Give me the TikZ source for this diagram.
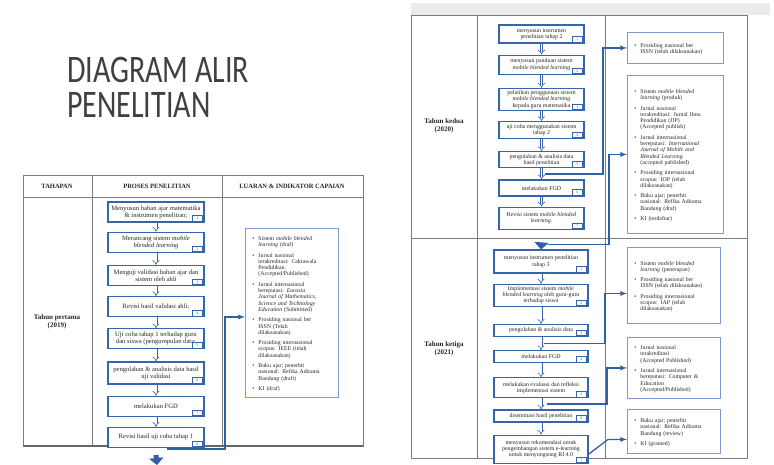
\documentclass[tikz,border=0pt]{standalone}
\usepackage{fontspec}
\setmainfont{Liberation Serif}
\newfontfamily\titlefont{Carlito}
\usepackage{graphicx}
\usepackage{enumitem}
\usetikzlibrary{positioning,calc,arrows.meta}

\definecolor{boxblue}{RGB}{55,100,170}
\definecolor{outblue}{RGB}{125,155,205}
\definecolor{arrblue}{RGB}{50,95,165}
\definecolor{rulegray}{RGB}{125,125,125}

\newcommand{\luaran}[1]{%
  \begin{itemize}[leftmargin=10pt,labelsep=4pt,itemsep=4pt,topsep=0pt,partopsep=0pt,parsep=0pt,label=\textbullet]
  #1
  \end{itemize}}

\begin{document}
\begin{tikzpicture}[x=1pt,y=-1pt,
	proc/.style={rectangle, draw=boxblue, line width=1.2pt, fill=white, text=black!85, align=center, inner sep=1pt, minimum width=96pt, minimum height=20pt, font=\fontsize{6.6}{7}\selectfont},
	procb/.style={proc, minimum width=85pt, minimum height=16pt, font=\fontsize{5.9}{6.3}\selectfont},
	procc/.style={proc, minimum width=94pt, minimum height=12pt, font=\fontsize{5.9}{6.3}\selectfont},
	badge/.style={rectangle, draw=boxblue, line width=0.7pt, fill=white, text=boxblue, inner sep=0pt, minimum width=10pt, minimum height=5.5pt, anchor=south east, font=\fontsize{4}{4}\selectfont},
	outbox/.style={rectangle, draw=outblue, line width=0.9pt, fill=white, text=black!85, text width=#1, inner xsep=3pt, inner ysep=3pt, align=left, anchor=north west, font=\fontsize{5.8}{6.3}\selectfont},
	head/.style={font=\fontsize{6.5}{7}\selectfont\bfseries, text=black!85},
	year/.style={font=\fontsize{7}{8}\selectfont\bfseries, text=black!85, align=center},
	ttl/.style={font=\titlefont\fontsize{30}{35}\selectfont, text=black!75, inner sep=0pt, align=left, anchor=north west},
	flow/.style={draw=boxblue, line width=0.6pt, double=white, double distance=1.8pt, -{Implies}},
	bigarr/.style={draw=arrblue, line width=5pt, -{Triangle[width=14pt,length=7pt]}},
	link/.style={draw=arrblue, line width=1.3pt, -latex}
	]
	\useasboundingbox (0,0) rectangle (774,465);

	% judul
	\node[ttl] (ttl) at (67,57) {\scalebox{1}[1.3]{DIAGRAM ALIR}\\\scalebox{1}[1.3]{PENELITIAN}};

	% tabel tahun pertama
	\draw[rulegray, line width=0.8pt] (23,175) rectangle (363,446);
	\draw[rulegray, line width=0.8pt] (23,197) -- (363,197) (92,175) -- (92,446) (222,175) -- (222,446);
	\draw[black!60, line width=1.5pt] (23,446) -- (363,446);

	\node[head] (hTahapan) at (57,186) {TAHAPAN};
	\node[head] (hProses) at (157,186) {PROSES PENELITIAN};
	\node[head] (hLuaran) at (292,186) {LUARAN \& INDIKATOR CAPAIAN};
	\node[year] (yr1) at (57,322) {Tahun pertama\\(2019)};

	\node[proc] (p11) at (156,212) {Menyusun bahan ajar matematika\\\& instrumen penelitian;};
	\node[proc, below=9pt of p11] (p12) {Merancang sistem \textit{mobile}\\\textit{blended learning}};
	\node[proc, below=12pt of p12] (p13) {Menguji validasi bahan ajar dan\\sistem oleh ahli};
	\node[proc, below=10pt of p13] (p14) {Revisi hasil validasi ahli;};
	\node[proc, below=11pt of p14] (p15) {Uji coba tahap 1 terhadap guru\\dan siswa (pengumpulan data;};
	\node[proc, minimum height=22pt, below=12pt of p15] (p16) {pengolahan \& analisis data hasil\\uji validasi};
	\node[proc, below=11pt of p16] (p17) {melakukan FGD};
	\node[proc, below=10pt of p17] (p18) {Revisi hasil uji coba tahap 1};

	\node[outbox=87pt, minimum height=169pt] (o1) at (245,228) {\luaran{
		\item Sistem \textit{mobile blended}\\\textit{learning} (draf)
		\item Jurnal nasional\\terakreditasi: Cakrawala\\Pendidikan,\\(Accepted/Published)
		\item Jurnal internasional\\bereputasi: \textit{Eurasia}\\\textit{Journal of Mathematics,}\\\textit{Science and Technology}\\\textit{Education} (Submitted)
		\item Prosiding nasional ber\\ISSN (Telah\\dilaksanakan)
		\item Prosiding internasional\\scopus: IEEE (telah\\dilaksanakan)
		\item Buku ajar; penerbit\\nasional: Refika Aditama\\Bandung (draft)
		\item KI (draf)}};

	% tabel tahun kedua dan ketiga
	\fill[black!8] (411,3) rectangle (770,15);
	\draw[rulegray, line width=0.8pt] (411,15) rectangle (747,458);
	\draw[rulegray, line width=0.8pt] (411,238) -- (747,238) (477,15) -- (477,458) (605,15) -- (605,458);

	\node[year] (yr2) at (444,126) {Tahun kedua\\(2020)};
	\node[year] (yr3) at (444,349) {Tahun ketiga\\(2021)};

	\node[procb, minimum height=18pt] (p21) at (541.5,34) {menyusun instrumen\\penelitian tahap 2};
	\node[procb, minimum height=19pt, below=11pt of p21] (p22) {menyusun panduan sistem\\\textit{mobile blended learning}};
	\node[procb, minimum height=22pt, below=13pt of p22] (p23) {pelatihan penggunaan sistem\\\textit{mobile blended learning}\\kepada guru matematika};
	\node[procb, minimum height=17pt, below=10pt of p23] (p24) {uji coba menggunakan sistem\\tahap 2};
	\node[procb, below=12pt of p24] (p25) {pengolahan \& analisis data\\hasil penelitian};
	\node[procb, below=11pt of p25] (p26) {melakukan FGD};
	\node[procb, minimum height=22pt, below=10pt of p26] (p27) {Revisi sistem \textit{mobile blended}\\\textit{learning}.};

	\node[procc, minimum height=23pt] (p31) at (541,261.5) {menyusun instrumen penelitian\\tahap 3};
	\node[procc, minimum height=22pt, below=10pt of p31] (p32) {Implementasi sistem \textit{mobile}\\\textit{blended learning} oleh guru-guru\\terhadap siswa};
	\node[procc, below=17pt of p32] (p33) {pengolahan \& analisis data};
	\node[procc, below=13pt of p33] (p34) {melakukan FGD};
	\node[procc, minimum height=20pt, below=14pt of p34] (p35) {melakukan evaluasi dan refleksi\\implementasi sistem};
	\node[procc, below=11pt of p35] (p36) {diseminasi hasil penelitian};
	\node[procc, minimum height=28pt, below=12pt of p36] (p37) {menyusun rekomendasi untuk\\pengembangan sistem e-learning\\untuk menyongsong RI 4.0};

	\node[outbox=90pt, minimum height=31pt] (oA) at (627,32) {\luaran{
		\item Prosiding nasional ber\\ISSN (telah dilaksanakan)}};
	\node[outbox=90pt, minimum height=158pt] (oB) at (627,75) {\luaran{
		\item Sistem \textit{mobile blended}\\\textit{learning} (produk)
		\item Jurnal nasional\\terakreditasi: Jurnal Ilmu\\Pendidikan (JIP)\\(Accepted publish)
		\item Jurnal internasional\\bereputasi: \textit{International}\\\textit{Journal of Mobile and}\\\textit{Blended Learning}\\(accepted published)
		\item Prosiding internasional\\scopus: IOP (telah\\dilaksanakan)
		\item Buku ajar; penerbit\\nasional: Refika Aditama\\Bandung (draf)
		\item KI (terdaftar)}};
	\node[outbox=87pt, minimum height=76pt] (oC) at (627,247) {\luaran{
		\item Sistem \textit{mobile blended}\\\textit{learning} (penerapan)
		\item Prosiding nasional ber\\ISSN (telah dilaksanakan)
		\item Prosiding internasional\\scopus: IAP (telah\\dilaksanakan)}};
	\node[outbox=87pt, minimum height=61pt] (oD) at (627,337) {\luaran{
		\item Jurnal nasional\\terakreditasi\\(Accepted Published)
		\item Jurnal internasional\\bereputasi: Computer \&\\Education\\(Accepted/Published)}};
	\node[outbox=87pt, minimum height=44pt] (oE) at (627,409) {\luaran{
		\item Buku ajar; penerbit\\nasional: Refika Aditama\\Bandung (review)
		\item KI (granted)}};

	% nomor kegiatan
	\foreach \b/\n in {p11/1,p12/2,p13/3,p14/4,p15/5,p16/6,p17/7,p18/8,
		p21/1,p22/2,p23/3,p24/4,p25/5,p26/6,p27/7,
		p31/1,p32/2,p33/3,p34/4,p35/5,p36/6,p37/7}
		\node[badge] (\b-n) at ([shift={(-2pt,1pt)}]\b.south east) {\n};

	% alur
	\foreach \a/\b in {p11/p12,p12/p13,p13/p14,p14/p15,p15/p16,p16/p17,p17/p18,
		p21/p22,p22/p23,p23/p24,p24/p25,p25/p26,p26/p27,
		p31/p32,p32/p33,p33/p34,p34/p35,p35/p36,p36/p37}
		\draw[flow] (\a) -- (\b);

	\coordinate (y1end) at (157,465);
	\coordinate (y1out) at (167,449);
	\draw[bigarr] ([yshift=-7pt]p18.south) -- (y1end);
	\draw[bigarr] ([yshift=-13pt]p27.south) -- (p31.north);

	\coordinate (k2) at ($(p25.south)!.5!(p26.north)$);
	\coordinate (k3) at ($(p27.south)!.5!(p31.north)$);
	\coordinate (k4) at ($(p33.south)!.5!(p34.north)$);
	\coordinate (k5) at ($(p35.south)!.5!(p36.north)$);

	\draw[link] (y1out) -| ([shift={(-20pt,-4pt)}]o1.west) -- ([yshift=-4pt]o1.west);
	\draw[link] ([xshift=3pt]k2) -| ([xshift=-24pt]oA.west) -- (oA.west);
	\draw[link] ([shift={(7pt,-5pt)}]k3) -| ([xshift=-18pt]oB.west) -- (oB.west);
	\draw[link] ([xshift=3pt]k4) -| ([shift={(-22pt,-8pt)}]oC.west) -- ([yshift=-8pt]oC.west);
	\draw[link] ([xshift=6pt]k5) -| ([xshift=-20pt]oD.west) -- (oD.west);
	\draw[link] ([yshift=-5pt]p37.east) -- ([shift={(-19pt,-8pt)}]oE.west) -- ([yshift=-8pt]oE.west);

\end{tikzpicture}
\end{document}
